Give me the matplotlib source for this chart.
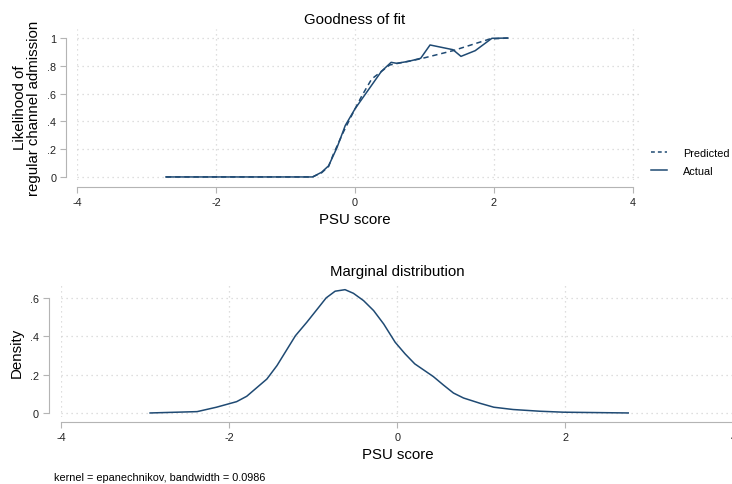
#!/usr/bin/env python3
"""Goodness of fit + marginal density of PSU score (Stata-style two-panel graph)."""

import matplotlib
matplotlib.use("Agg")
import matplotlib.pyplot as plt
from matplotlib.lines import Line2D

plt.rcParams["font.family"] = ["Liberation Sans", "DejaVu Sans"]

# ---- data ----
# top panel: actual admission share by PSU score
actual_x = [-2.72, -0.61, -0.48, -0.38, -0.26, -0.14, 0.0, 0.38, 0.52, 0.60,
            0.77, 0.945, 1.08, 1.41, 1.525, 1.73, 1.97, 2.2]
actual_y = [0.0, 0.0, 0.034, 0.08, 0.21, 0.37, 0.49, 0.76, 0.825, 0.818,
            0.832, 0.854, 0.95, 0.916, 0.868, 0.909, 0.998, 1.0]

# top panel: predicted
pred_x = [-2.72, -0.61, -0.48, -0.38, -0.31, -0.17, -0.02, 0.10, 0.24, 0.50,
          0.94, 1.41, 1.94, 2.2]
pred_y = [0.0, 0.0, 0.03, 0.075, 0.165, 0.32, 0.47, 0.585, 0.705, 0.806,
          0.85, 0.909, 0.993, 1.0]

# bottom panel: kernel density
dens_x = [-2.94, -2.38, -2.15, -1.91, -1.79, -1.55, -1.43, -1.21, -1.075,
          -0.917, -0.845, -0.738, -0.62, -0.52, -0.40, -0.28, -0.16, -0.024,
          0.095, 0.21, 0.43, 0.55, 0.67, 0.79, 0.99, 1.15, 1.38, 1.70, 1.98,
          2.75]
dens_y = [0.0, 0.007, 0.03, 0.059, 0.087, 0.177, 0.247, 0.403, 0.473,
          0.56, 0.60, 0.635, 0.643, 0.624, 0.586, 0.534, 0.464, 0.369,
          0.308, 0.256, 0.19, 0.146, 0.104, 0.078, 0.05, 0.03, 0.018,
          0.009, 0.004, 0.0]

x_ticks = [-4, -2, 0, 2, 4]
x_ticklabels = ["-4", "-2", "0", "2", "4"]
top_yticks = [0, 0.2, 0.4, 0.6, 0.8, 1.0]
top_yticklabels = ["0", ".2", ".4", ".6", ".8", "1"]
bot_yticks = [0, 0.2, 0.4, 0.6]
bot_yticklabels = ["0", ".2", ".4", ".6"]

LINE = "#1f4a73"
AXIS = "#b4b4b4"
GRID = "#d4d4d4"
W, H = 732, 485


def style_axis(ax, yticks, yticklabels, left_out, bottom_out):
    for side in ("top", "right"):
        ax.spines[side].set_visible(False)
    ax.spines["left"].set_position(("outward", left_out))
    ax.spines["bottom"].set_position(("outward", bottom_out))
    ax.spines["left"].set_color(AXIS)
    ax.spines["bottom"].set_color(AXIS)
    ax.spines["left"].set_bounds(yticks[0], yticks[-1])
    ax.spines["bottom"].set_bounds(-4, 4)
    ax.set_xticks(x_ticks)
    ax.set_xticklabels(x_ticklabels)
    ax.set_yticks(yticks)
    ax.set_yticklabels(yticklabels)
    ax.tick_params(axis="both", colors=AXIS, labelcolor="#222222",
                   labelsize=7.8, length=4, width=0.8, pad=3)
    ax.grid(True, linestyle=(0, (1, 3)), color=GRID, linewidth=0.9)
    ax.set_axisbelow(True)


fig = plt.figure(figsize=(W / 100, H / 100), dpi=100)

# ---- top panel ----
ax1 = fig.add_axes([77 / W, 1 - 181 / H, 565 / W, 151 / H])
ax1.set_xlim(-4, 4.13)
ax1.set_ylim(-0.022, 1.065)
ax1.plot(pred_x, pred_y, color=LINE, lw=1.1, linestyle=(0, (3.5, 2.5)),
         clip_on=False, label="Predicted")
ax1.plot(actual_x, actual_y, color=LINE, lw=1.1, clip_on=False,
         label="Actual")
style_axis(ax1, top_yticks, top_yticklabels, 8, 5)

fig.text(355 / W, 1 - 20 / H, "Goodness of fit", ha="center", va="center",
         fontsize=10.8)
fig.text(355 / W, 1 - 220 / H, "PSU score", ha="center", va="center",
         fontsize=10.8)
fig.text(27 / W, 1 - 108 / H, "Likelihood of\nregular channel admission",
         ha="center", va="center", rotation=90, fontsize=10.8,
         linespacing=0.95)

handles = [Line2D([], [], color=LINE, lw=1.1, linestyle=(0, (2.5, 2.0))),
           Line2D([], [], color=LINE, lw=1.1)]
fig.legend(handles, ["Predicted", "Actual"], loc="upper left",
           bbox_to_anchor=(651 / W, 1 - 149 / H), frameon=False,
           fontsize=7.8, handlelength=1.45, handletextpad=1.5,
           labelspacing=0.75, borderaxespad=0, borderpad=0)

# ---- bottom panel ----
ax2 = fig.add_axes([61 / W, 1 - 417.8 / H, 679 / W, (417.8 - 283) / H])
ax2.set_xlim(-4, 4.08)
ax2.set_ylim(-0.02, 0.683)
ax2.plot(dens_x, dens_y, color=LINE, lw=1.1, clip_on=False)
style_axis(ax2, bot_yticks, bot_yticklabels, 9, 4)

fig.text(397 / W, 1 - 272 / H, "Marginal distribution", ha="center",
         va="center", fontsize=10.8)
fig.text(398 / W, 1 - 455 / H, "PSU score", ha="center", va="center",
         fontsize=10.8)
fig.text(17 / W, 1 - 353 / H, "Density", ha="center", va="center",
         rotation=90, fontsize=10.8)
fig.text(54 / W, 1 - 478 / H, "kernel = epanechnikov, bandwidth = 0.0986",
         ha="left", va="center", fontsize=7.8)

fig.savefig("out.png", dpi=100, facecolor="white")
